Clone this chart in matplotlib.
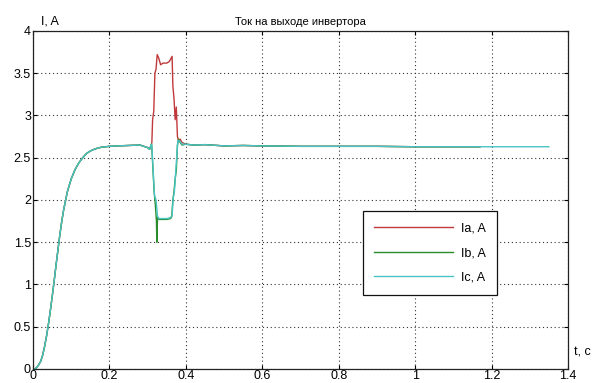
import matplotlib
matplotlib.use('Agg')
import matplotlib.pyplot as plt

# common start-up (all three phases coincide)
t_start = [0, 0.005, 0.01, 0.015, 0.02, 0.025, 0.03, 0.035, 0.04, 0.045, 0.05, 0.055,
           0.06, 0.065, 0.07, 0.075, 0.08, 0.09, 0.1, 0.11, 0.12, 0.13, 0.14, 0.15,
           0.16, 0.17, 0.18, 0.2, 0.22, 0.25, 0.28, 0.3, 0.305, 0.31]
i_start = [0, 0.0, 0.02, 0.05, 0.09, 0.16, 0.26, 0.38, 0.52, 0.68, 0.85, 1.03,
           1.22, 1.40, 1.58, 1.74, 1.88, 2.10, 2.25, 2.36, 2.44, 2.50, 2.55, 2.58,
           2.60, 2.615, 2.625, 2.635, 2.64, 2.645, 2.65, 2.62, 2.6, 2.66]

# disturbance
ta = [0.311, 0.313, 0.316, 0.319, 0.322, 0.325, 0.329, 0.334, 0.34, 0.35, 0.357,
      0.364, 0.366, 0.369, 0.372, 0.375, 0.378, 0.381, 0.385, 0.39, 0.4]
ia = [2.68, 2.95, 3.05, 3.5, 3.55, 3.72, 3.68, 3.6, 3.62, 3.62, 3.64,
      3.7, 3.35, 3.2, 2.95, 3.1, 2.75, 2.7, 2.72, 2.68, 2.66]

tb = [0.311, 0.314, 0.317, 0.320, 0.323, 0.324, 0.326, 0.33, 0.34, 0.35, 0.36,
      0.363, 0.366, 0.369, 0.372, 0.375, 0.378, 0.381, 0.385, 0.39, 0.4]
ib = [2.62, 2.35, 2.1, 1.95, 1.75, 1.5, 1.8, 1.77, 1.77, 1.77, 1.78,
      1.8, 2.0, 2.1, 2.25, 2.35, 2.65, 2.72, 2.68, 2.65, 2.66]

tc = [0.311, 0.315, 0.318, 0.322, 0.326, 0.33, 0.34, 0.35, 0.36, 0.364, 0.367,
      0.37, 0.373, 0.376, 0.379, 0.383, 0.39, 0.4]
ic = [2.64, 2.3, 2.05, 2.0, 1.8, 1.78, 1.78, 1.78, 1.79, 1.82, 2.02,
      2.1, 2.3, 2.5, 2.7, 2.7, 2.66, 2.66]

# steady state after disturbance
t_tail = [0.42, 0.45, 0.5, 0.55, 0.6, 0.7, 0.8, 0.9, 1.0, 1.1, 1.17]
i_tail = [2.65, 2.655, 2.64, 2.645, 2.64, 2.635, 2.635, 2.635, 2.63, 2.63, 2.63]
t_tail_c = [1.25, 1.35]
i_tail_c = [2.63, 2.63]

plt.rcParams['font.family'] = ['Liberation Sans', 'DejaVu Sans']

fig = plt.figure(figsize=(5.95, 3.83), dpi=100)
ax = fig.add_axes([0.0555, 0.0366, 0.899, 0.8825])

ax.plot(t_start + ta + t_tail, i_start + ia + i_tail, color='#c0393b', lw=1.0, label='Ia, A')
ax.plot(t_start + tb + t_tail, i_start + ib + i_tail, color='#2a8c2a', lw=1.0, label='Ib, A')
ax.plot(t_start + tc + t_tail + t_tail_c, i_start + ic + i_tail + i_tail_c,
        color='#48c4c4', lw=1.0, label='Ic, A')

ax.set_xlim(0, 1.4)
ax.set_ylim(0, 4)
ax.set_xticks([0, 0.2, 0.4, 0.6, 0.8, 1.0, 1.2, 1.4])
ax.set_xticklabels(['0', '0.2', '0.4', '0.6', '0.8', '1', '1.2', '1.4'])
ax.set_yticks([0, 0.5, 1, 1.5, 2, 2.5, 3, 3.5, 4])
ax.set_yticklabels(['0', '0.5', '1', '1.5', '2', '2.5', '3', '3.5', '4'])
ax.tick_params(direction='in', length=3, top=True, right=True, labelsize=9, pad=1.5)
ax.tick_params(axis='x', pad=0.5)
ax.grid(True, color='#333333', linestyle=(0, (1, 2.5)), linewidth=0.8)
for s in ax.spines.values():
    s.set_color('#222222')
    s.set_linewidth(0.9)

ax.set_title('Ток на выходе инвертора', fontsize=8, pad=4)
ax.text(0.015, 1.01, 'I, A', transform=ax.transAxes, fontsize=9, ha='left', va='bottom')
ax.text(1.012, 0.03, 't, c', transform=ax.transAxes, fontsize=9, ha='left', va='bottom')

leg = ax.legend(loc='upper left', bbox_to_anchor=(0.617, 0.466), borderaxespad=0,
                fontsize=9, handlelength=6.3, labelspacing=1.0, fancybox=False,
                framealpha=1, edgecolor='#111111', borderpad=0.9, handletextpad=0.6)
leg.get_frame().set_linewidth(0.9)

fig.savefig('out.png', dpi=100)
